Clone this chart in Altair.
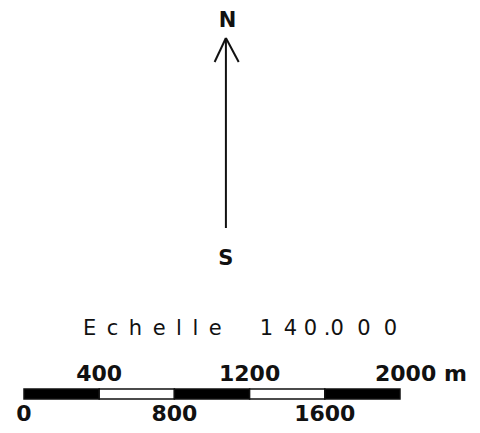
import altair as alt
import pandas as pd

# Scale bar (metres)
seg_start = [0, 400, 800, 1200, 1600]
seg_end = [400, 800, 1200, 1600, 2000]
seg_fill = ["black", "white", "black", "white", "black"]
top_labels = [400, 1200]
last_label = "2000 m"
last_value = 2000
bottom_labels = [0, 800, 1600]
EN = "\u2002"
NB = "\u00a0"
title_text = (EN.join("Echelle") + EN * 3 + NB + "1" + EN
              + "4" + NB + "0" + NB + ".0" + NB * 2 + "0" + NB * 2 + "0")
title_start = 314
arrow_x = 1074
north_label = "N"
south_label = "S"

ink = "#111111"
W, H = 464, 417
xs = alt.Scale(domain=[-85.1, 2383], nice=False, zero=False)
ys = alt.Scale(domain=[0, H], reverse=True, nice=False, zero=False)

def X(f="x"):
    return alt.X(f"{f}:Q", scale=xs, axis=None)

def Y(f="y"):
    return alt.Y(f"{f}:Q", scale=ys, axis=None)

segs = pd.DataFrame({"x": seg_start, "x2": seg_end, "fill": seg_fill,
                     "y": [381] * 5, "y2": [391] * 5})
bar = alt.Chart(segs).mark_rect(stroke=ink, strokeWidth=1.5).encode(
    x=X(), x2="x2:Q", y=Y(), y2="y2:Q",
    fill=alt.Fill("fill:N", scale=None))

num_font = dict(font="DejaVu Sans", fontSize=22, fontWeight="bold",
                color=ink, baseline="middle")

top = pd.DataFrame({"x": top_labels, "y": [366] * len(top_labels),
                    "t": [str(v) for v in top_labels]})
top_text = alt.Chart(top).mark_text(**num_font).encode(
    x=X(), y=Y(), text="t:N")

last_df = pd.DataFrame({"x": [last_value], "y": [366], "t": [last_label]})
last_text = alt.Chart(last_df).mark_text(align="left", dx=-25, **num_font).encode(
    x=X(), y=Y(), text="t:N")

bot = pd.DataFrame({"x": bottom_labels, "y": [406] * 3,
                    "t": [str(v) for v in bottom_labels]})
bot_text = alt.Chart(bot).mark_text(**num_font).encode(
    x=X(), y=Y(), text="t:N")

title_df = pd.DataFrame({"x": [title_start], "y": [321], "t": [title_text]})
title = alt.Chart(title_df).mark_text(font="DejaVu Sans", fontSize=21,
                                      color=ink, baseline="middle",
                                      align="left").encode(
    x=X(), y=Y(), text="t:N")

# North arrow
shaft = pd.DataFrame({"x": [arrow_x], "x2": [arrow_x], "y": [30], "y2": [220]})
shaft_m = alt.Chart(shaft).mark_rule(color=ink, strokeWidth=2).encode(
    x=X(), x2="x2:Q", y=Y(), y2="y2:Q")
head = pd.DataFrame({"x": [arrow_x, arrow_x], "x2": [arrow_x - 60, arrow_x + 68],
                     "y": [30, 30], "y2": [54, 54]})
head_m = alt.Chart(head).mark_rule(color=ink, strokeWidth=2).encode(
    x=X(), x2="x2:Q", y=Y(), y2="y2:Q")

ns = pd.DataFrame({"x": [arrow_x + 8, arrow_x], "y": [13, 251],
                   "t": [north_label, south_label]})
ns_text = alt.Chart(ns).mark_text(font="DejaVu Sans", fontSize=21,
                                  fontWeight="bold", color=ink,
                                  baseline="middle").encode(
    x=X(), y=Y(), text="t:N")

chart = alt.layer(bar, top_text, last_text, bot_text, title, shaft_m, head_m,
                  ns_text).properties(
    width=W, height=H, padding=0,
    autosize=alt.AutoSizeParams(type="none"),
    background="white",
).configure_view(stroke=None)

chart.save("out.html", embed_options={"renderer": "svg", "actions": False})
